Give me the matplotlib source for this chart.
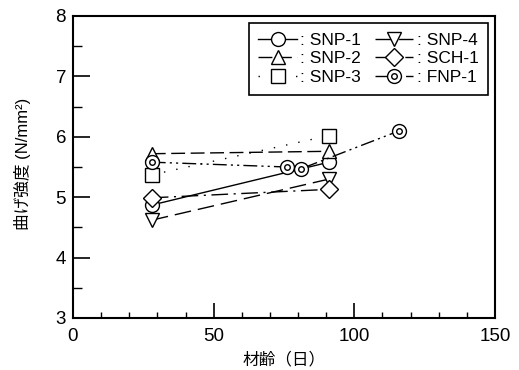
import matplotlib
matplotlib.use("Agg")
import matplotlib.pyplot as plt
from matplotlib.path import Path
from matplotlib.ticker import MultipleLocator

plt.rcParams['font.family'] = ['Liberation Sans', 'Noto Sans CJK JP', 'DejaVu Sans']

# data
snp1_x = [28, 91];  snp1_y = [4.87, 5.58]
snp2_x = [28, 91];  snp2_y = [5.72, 5.76]
snp3_x = [28, 91];  snp3_y = [5.37, 6.02]
snp4_x = [28, 91];  snp4_y = [4.62, 5.30]
sch1_x = [28, 91];  sch1_y = [4.99, 5.13]
fnp1_x = [28, 76, 81, 116]; fnp1_y = [5.58, 5.50, 5.47, 6.10]

xticks = [0, 50, 100, 150]
yticks = [3, 4, 5, 6, 7, 8]

# double-circle marker
outer = Path.unit_circle()
inner = Path(Path.unit_circle().vertices * 0.4, Path.unit_circle().codes)
dcirc = Path.make_compound_path(outer, inner)

fig = plt.figure(figsize=(5.19, 3.70), dpi=100)
ax = fig.add_axes([73/519, 52/370, 422/519, 302/370])

ms = 10
common = dict(color='black', lw=1.0, mfc='white', mec='black', mew=1.0, ms=ms)
ax.plot(snp1_x, snp1_y, ls='-', marker='o', label=': SNP-1', **common)
ax.plot(snp2_x, snp2_y, ls=(0, (10, 4)), marker='^', label=': SNP-2', **common)
ax.plot(snp3_x, snp3_y, ls=(0, (1, 8)), marker='s', label=': SNP-3', **common)
ax.plot(snp4_x, snp4_y, ls=(0, (12, 5)), marker='v', label=': SNP-4', **common)
ax.plot(sch1_x, sch1_y, ls=(0, (12, 4, 1.5, 4)), marker='D', label=': SCH-1',
        **{**common, 'ms': 9})
ax.plot(fnp1_x, fnp1_y, ls=(0, (10, 3, 1.5, 3, 1.5, 3)), marker=dcirc, label=': FNP-1', **common)

ax.set_xlim(0, 150)
ax.set_ylim(3, 8)
ax.set_xticks(xticks)
ax.set_yticks(yticks)
ax.xaxis.set_minor_locator(MultipleLocator(10))
ax.yaxis.set_minor_locator(MultipleLocator(0.5))
ax.tick_params(which='both', direction='in', top=False, right=False, labelsize=13.5)
ax.tick_params(axis='y', which='major', length=12, width=1.2, pad=5)
ax.tick_params(axis='y', which='minor', length=6.5, width=1.0)
ax.tick_params(axis='x', which='major', length=11, width=1.2, pad=7)
ax.tick_params(axis='x', which='minor', length=4, width=1.0)
for s in ax.spines.values():
    s.set_linewidth(1.5)

ax.set_xlabel('材齢（日）', fontsize=12, labelpad=5)
ax.set_ylabel('曲げ強度 (N/mm²)', fontsize=12)
ax.yaxis.set_label_coords(-0.10, 0.51)

handles, labels = ax.get_legend_handles_labels()
leg = ax.legend(handles, labels, ncol=2,
                loc='upper right', bbox_to_anchor=(1 - 7/422, 1 - 7/302), borderaxespad=0,
                fontsize=12.5,
                frameon=True, fancybox=False, edgecolor='black', framealpha=1,
                handlelength=2.2, handletextpad=0.2, labelspacing=0.2,
                columnspacing=0.8, borderpad=0.55, numpoints=1, markerscale=1.0)
leg.get_frame().set_linewidth(1.2)

fig.savefig('out.png', dpi=100)
